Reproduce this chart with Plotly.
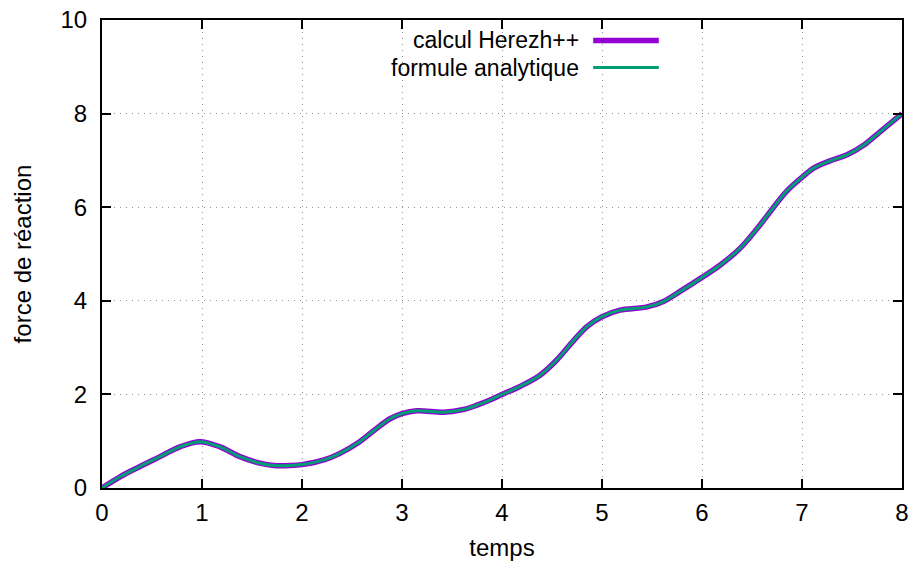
import plotly.graph_objects as go

# Data
temps = [0, 0.18, 0.38, 0.58, 0.78, 0.98, 1.18, 1.38, 1.58, 1.72, 1.88, 2.0,
         2.22, 2.38, 2.55, 2.72, 2.88, 3.0, 3.15, 3.42, 3.62, 3.75, 3.88, 4.0,
         4.18, 4.38, 4.55, 4.72, 4.85, 5.0, 5.18, 5.45, 5.62, 5.78, 6.0, 6.18,
         6.38, 6.58, 6.72, 6.85, 7.0, 7.12, 7.28, 7.45, 7.62, 7.78, 8.0]
force_herezh = [0.0, 0.24, 0.46, 0.67, 0.88, 0.99, 0.88, 0.67, 0.53, 0.48, 0.48,
                0.50, 0.60, 0.74, 0.95, 1.23, 1.48, 1.59, 1.65, 1.62, 1.68, 1.77,
                1.88, 2.00, 2.17, 2.41, 2.74, 3.16, 3.45, 3.66, 3.80, 3.87, 3.99,
                4.20, 4.50, 4.76, 5.12, 5.62, 6.01, 6.35, 6.64, 6.84, 6.99, 7.12,
                7.33, 7.61, 8.0]
force_analytique = [0.0, 0.24, 0.46, 0.67, 0.88, 0.99, 0.88, 0.67, 0.53, 0.48,
                    0.48, 0.50, 0.60, 0.74, 0.95, 1.23, 1.48, 1.59, 1.65, 1.62,
                    1.68, 1.77, 1.88, 2.00, 2.17, 2.41, 2.74, 3.16, 3.45, 3.66,
                    3.80, 3.87, 3.99, 4.20, 4.50, 4.76, 5.12, 5.62, 6.01, 6.35,
                    6.64, 6.84, 6.99, 7.12, 7.33, 7.61, 8.0]
names = ["calcul Herezh++", "formule analytique"]
colors = ["#9400D3", "#009E73"]
widths = [5.5, 3]

FONT = "Liberation Sans, Arial, Helvetica, sans-serif"
FS = 24
LEG_FS = 23

fig = go.Figure()
for ys, name, col, w in zip([force_herezh, force_analytique], names, colors, widths):
    fig.add_trace(go.Scatter(x=temps, y=ys, mode="lines", name=name,
                             line=dict(color=col, width=w, shape="spline", smoothing=1),
                             showlegend=False))

# gnuplot-style legend: text to the left, line sample to the right
leg_y = [0.9562, 0.8985]
for name, col, w, yy in zip(names, colors, widths, leg_y):
    fig.add_annotation(xref="paper", yref="paper", x=0.598, y=yy, text=name,
                       showarrow=False, xanchor="right", yanchor="middle",
                       borderpad=0,
                       font=dict(family=FONT, size=LEG_FS, color="black"))
    fig.add_shape(type="line", xref="paper", yref="paper", x0=0.614, x1=0.696,
                  y0=yy, y1=yy, line=dict(color=col, width=w))

axis_common = dict(showline=True, linecolor="black", linewidth=2, mirror="ticks",
                   ticks="inside", ticklen=9, tickwidth=2, tickcolor="black",
                   showgrid=True, gridcolor="#909090", griddash="1px,5px", gridwidth=1,
                   zeroline=False, automargin=False,
                   tickfont=dict(family=FONT, size=FS, color="black"))

fig.update_layout(
    width=912, height=566,
    margin=dict(l=102, r=10, t=20, b=78),
    plot_bgcolor="white", paper_bgcolor="white",
    xaxis=dict(range=[0, 8], dtick=1, tick0=0, ticklabelstandoff=2,
               title=dict(text="temps", font=dict(family=FONT, size=FS, color="black"), standoff=14),
               **axis_common),
    yaxis=dict(range=[0, 10], dtick=2, tick0=0, ticklabelstandoff=8,
               title=dict(text="force de réaction", font=dict(family=FONT, size=FS, color="black"), standoff=22),
               **axis_common),
)

fig.write_html("out.html")
